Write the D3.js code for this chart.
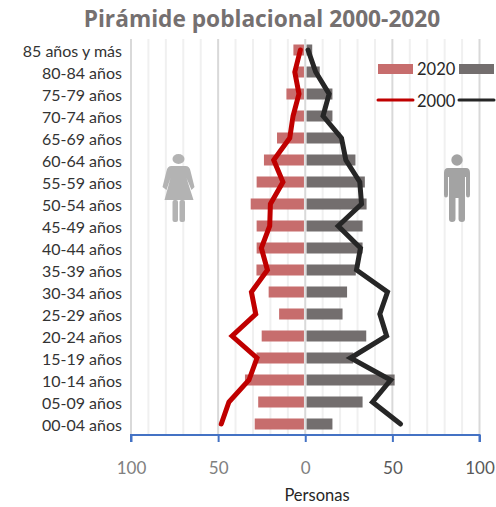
<!DOCTYPE html>
<html>
<head>
<meta charset="utf-8">
<script src="https://cdn.jsdelivr.net/npm/d3@7"></script>
<style>
  html, body { margin: 0; padding: 0; background: #fff; }
  svg { display: block; }
  text { font-family: Lato, "Open Sans", sans-serif; }
</style>
</head>
<body>
<div id="chart"></div>
<script>
const ageGroups = ["85 años y más", "80-84 años", "75-79 años", "70-74 años", "65-69 años", "60-64 años",
  "55-59 años", "50-54 años", "45-49 años", "40-44 años", "35-39 años", "30-34 años", "25-29 años",
  "20-24 años", "15-19 años", "10-14 años", "05-09 años", "00-04 años"];
const women2020 = [6.8, 5, 10.8, 6, 16.2, 23.7, 27.9, 31.3, 27.9, 27.9, 28, 21, 15, 25, 28, 34.6, 27, 29];
const men2020 = [4, 8.3, 15.6, 15.6, 20.2, 28.8, 34.2, 35.2, 32.9, 32.9, 29, 24, 21.4, 35, 27.5, 51.3, 32.9, 15.6];
const women2000 = [2.8, 6, 3.6, 7, 8.9, 18.1, 12.8, 20, 20.4, 25.2, 21.7, 30.9, 28.4, 42, 27.7, 32.3, 43.8, 48.2];
const men2000 = [1.6, 6, 13.7, 10.2, 20.8, 23.3, 31.3, 32.3, 18.9, 31.7, 29.4, 47.2, 42.8, 46.7, 26, 49, 38.6, 54.7];
const gridValues = d3.range(-100, 101, 10);
const tickValues = [-100, -50, 0, 50, 100];

const width = 496, height = 507;
const colors = { women: "#c76d6d", men: "#736e6e", line2000w: "#c00000", line2000m: "#262626" };

const svg = d3.select("#chart").append("svg")
  .attr("width", width)
  .attr("height", height);

const x = d3.scaleLinear().domain([-100, 100]).range([131, 479.5]);
const y = d3.scaleBand().domain(ageGroups).range([39, 435]).paddingInner(0.5).paddingOuter(0.25);
const yMid = d => y(d) + y.bandwidth() / 2;

svg.append("text")
  .attr("x", 262)
  .attr("y", 27)
  .attr("text-anchor", "middle")
  .attr("font-size", 22.7)
  .attr("font-weight", 700)
  .attr("fill", "#757070")
  .style("font-family", "'Open Sans'")
  .text("Pirámide poblacional 2000-2020");

// gridlines, every 50 is darker
svg.append("g").selectAll("line")
  .data(gridValues)
  .enter().append("line")
  .attr("x1", d => x(d))
  .attr("x2", d => x(d))
  .attr("y1", 39)
  .attr("y2", 435)
  .attr("stroke", d => d % 50 === 0 ? "#d9d9d9" : "#f0f0f0")
  .attr("stroke-width", 2);

// bars leave a small gap around the zero line
const gap = 1.3;
svg.append("g").selectAll("rect")
  .data(ageGroups)
  .enter().append("rect")
  .attr("x", (d, i) => x(-women2020[i]))
  .attr("y", d => y(d))
  .attr("width", (d, i) => x(0) - x(-women2020[i]) - gap)
  .attr("height", y.bandwidth())
  .attr("fill", colors.women);

svg.append("g").selectAll("rect")
  .data(ageGroups)
  .enter().append("rect")
  .attr("x", x(0) + gap)
  .attr("y", d => y(d))
  .attr("width", (d, i) => x(men2020[i]) - x(0) - gap)
  .attr("height", y.bandwidth())
  .attr("fill", colors.men);

const line = d3.line()
  .x(d => x(d[0]))
  .y(d => yMid(d[1]));

svg.append("path")
  .attr("d", line(ageGroups.map((g, i) => [-women2000[i], g])))
  .attr("fill", "none")
  .attr("stroke", colors.line2000w)
  .attr("stroke-width", 5)
  .attr("stroke-linecap", "round")
  .attr("stroke-linejoin", "miter");

svg.append("path")
  .attr("d", line(ageGroups.map((g, i) => [men2000[i], g])))
  .attr("fill", "none")
  .attr("stroke", colors.line2000m)
  .attr("stroke-width", 5)
  .attr("stroke-linecap", "round")
  .attr("stroke-linejoin", "miter");

// category labels
svg.append("g").selectAll("text")
  .data(ageGroups)
  .enter().append("text")
  .attr("x", 122)
  .attr("y", d => yMid(d) + 7)
  .attr("text-anchor", "end")
  .attr("font-size", 16)
  .attr("fill", "#333")
  .text(d => d);

// bottom axis
const xAxis = d3.axisBottom(x)
  .tickValues(tickValues)
  .tickSize(7)
  .tickPadding(20)
  .tickFormat(d => Math.abs(d));

const axisG = svg.append("g")
  .attr("transform", "translate(0,435)")
  .call(xAxis);
axisG.selectAll("path, line").attr("stroke", "#4472c4").attr("stroke-width", 2);
axisG.select(".domain").attr("d", `M${x(-100)},7V0H${x(100)}V7`);
axisG.selectAll("text")
  .attr("font-size", 17)
  .attr("fill", (d, i) => i > 2 ? "#595959" : "#808080")
  .style("font-family", "Lato");

svg.append("text")
  .attr("x", 317)
  .attr("y", 501)
  .attr("text-anchor", "middle")
  .attr("font-size", 16.5)
  .attr("fill", "#262626")
  .text("Personas");

// legend
const legend = svg.append("g");
legend.append("rect").attr("x", 378).attr("y", 64).attr("width", 35).attr("height", 10).attr("fill", colors.women);
legend.append("rect").attr("x", 459).attr("y", 64).attr("width", 35).attr("height", 10).attr("fill", colors.men);
legend.append("line").attr("x1", 378).attr("x2", 413).attr("y1", 100).attr("y2", 100)
  .attr("stroke", colors.line2000w).attr("stroke-width", 3).attr("stroke-linecap", "round");
legend.append("line").attr("x1", 459).attr("x2", 494).attr("y1", 100).attr("y2", 100)
  .attr("stroke", colors.line2000m).attr("stroke-width", 3).attr("stroke-linecap", "round");
legend.selectAll("text")
  .data([["2020", 75], ["2000", 106.5]])
  .enter().append("text")
  .attr("x", 417)
  .attr("y", d => d[1])
  .attr("font-size", 16.5)
  .attr("fill", "#262626")
  .text(d => d[0]);

// woman icon
const woman = svg.append("g").attr("transform", "translate(178.5,154)").attr("fill", "#b3b3b3");
woman.append("ellipse").attr("cx", 0).attr("cy", 5).attr("rx", 6).attr("ry", 5);
woman.append("path").attr("d", "M-7,12 H7 Q11,12 12,17 L16,33 L13,36 L8,24 L15,46 H-14 L-8,24 L-12,36 L-16,33 L-12,17 Q-11,12 -7,12 Z");
woman.append("rect").attr("x", -6).attr("y", 46).attr("width", 5.5).attr("height", 22).attr("rx", 2);
woman.append("rect").attr("x", 1).attr("y", 46).attr("width", 5.5).attr("height", 22).attr("rx", 2);

// man icon
const man = svg.append("g").attr("transform", "translate(457,154)").attr("fill", "#a3a3a3");
man.append("circle").attr("cx", 0).attr("cy", 6).attr("r", 5.7);
man.append("path").attr("d", "M-9,14 H9 Q13,14 13,19 V41 Q13,43.5 11,43.5 Q9,43.5 9,41 V23 H8 V65 Q8,68 5,68 Q1.5,68 1.5,65 V44 H-1.5 V65 Q-1.5,68 -5,68 Q-8,68 -8,65 V23 H-9 V41 Q-9,43.5 -11,43.5 Q-13,43.5 -13,41 V19 Q-13,14 -9,14 Z");
</script>
</body>
</html>
